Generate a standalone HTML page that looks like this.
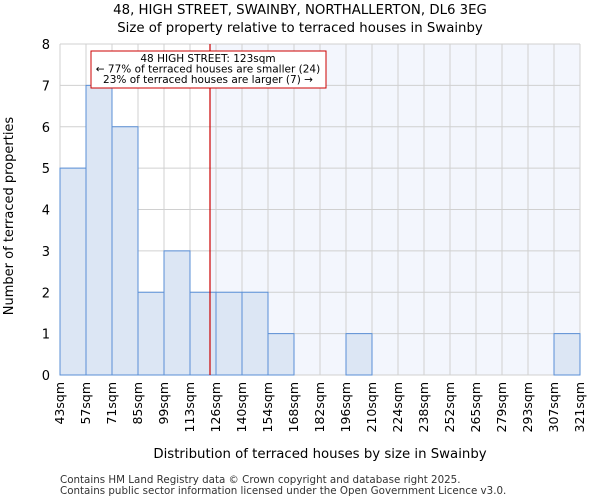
<!DOCTYPE html>
<html><head><meta charset="utf-8"><style>
body{margin:0;background:#fff;font-family:"DejaVu Sans","Liberation Sans",sans-serif}
</style></head><body>
<svg width="600" height="500" xmlns="http://www.w3.org/2000/svg" font-family="DejaVu Sans, Liberation Sans, sans-serif">
<text x="300" y="14" text-anchor="middle" font-size="13.3">48, HIGH STREET, SWAINBY, NORTHALLERTON, DL6 3EG</text>
<text x="300" y="32" text-anchor="middle" font-size="13.3">Size of property relative to terraced houses in Swainby</text>
<g id="plot"></g>
<text x="320" y="458" text-anchor="middle" font-size="13.3">Distribution of terraced houses by size in Swainby</text>
<text x="13" y="216" text-anchor="middle" font-size="13" transform="rotate(-90 13 216)">Number of terraced properties</text>
<text x="60" y="483" font-size="10.3" fill="#333">Contains HM Land Registry data © Crown copyright and database right 2025.</text>
<text x="60" y="494" font-size="10.3" fill="#333">Contains public sector information licensed under the Open Government Licence v3.0.</text>
</svg>
<script>
const binLabels=["43sqm","57sqm","71sqm","85sqm","99sqm","113sqm","126sqm","140sqm","154sqm","168sqm","182sqm","196sqm","210sqm","224sqm","238sqm","252sqm","265sqm","279sqm","293sqm","307sqm","321sqm"];
const binEdges=[43,57,71,85,99,113,126,140,154,168,182,196,210,224,238,252,265,279,293,307,321];
const counts=[5,7,6,2,3,2,2,2,1,0,0,1,0,0,0,0,0,0,0,1];
const yTicks=[0,1,2,3,4,5,6,7,8];
const propertySize=123;
const NS="http://www.w3.org/2000/svg";
const L=60,R=580,T=44,B=375,yMax=8;
const nb=counts.length;
function xIdx(i){return L+(R-L)*i/nb;}
function xVal(v){for(let i=0;i<binEdges.length-1;i++){if(v<=binEdges[i+1]){return xIdx(i+(v-binEdges[i])/(binEdges[i+1]-binEdges[i]));}}return R;}
function y(v){return B-(B-T)*v/yMax;}
const g=document.getElementById('plot');
function mk(t,a){const e=document.createElementNS(NS,t);for(const k in a)e.setAttribute(k,a[k]);g.appendChild(e);return e;}
const px=xVal(propertySize);
let e=mk('rect',{x:px,y:T,width:R-px,height:B-T,fill:'#f3f6fd'});


for(let i=0;i<=nb;i++){e=mk('line',{x1:xIdx(i),x2:xIdx(i),y1:T,y2:B,stroke:'#d0d0d0','stroke-width':1});

}
yTicks.forEach(t=>{e=mk('line',{x1:L,x2:R,y1:y(t),y2:y(t),stroke:'#d0d0d0','stroke-width':1});


e=mk('text',{x:L-10,y:y(t)+5,'text-anchor':'end','font-size':13});e.textContent=t;

});
counts.forEach((c,i)=>{if(c<=0)return;e=mk('rect',{x:xIdx(i),y:y(c),width:xIdx(i+1)-xIdx(i),height:B-y(c),fill:'#dce6f4',stroke:'#5a8fd6','stroke-width':1});

});
binLabels.forEach((l,i)=>{const xx=xIdx(i)+4;e=mk('text',{x:xx,y:382,'text-anchor':'end','font-size':12.5,transform:`rotate(-90 ${xx} 382)`});e.textContent=l;

});
e=mk('line',{x1:px,x2:px,y1:T,y2:B,stroke:'#cc0000','stroke-width':1.2});


e=mk('rect',{x:91,y:51,width:235,height:37,fill:'#fff',stroke:'#cc0000','stroke-width':1});


["48 HIGH STREET: 123sqm","← 77% of terraced houses are smaller (24)","23% of terraced houses are larger (7) →"].forEach((s,i)=>{e=mk('text',{x:208,y:62+i*10.5,'text-anchor':'middle','font-size':10.5});e.textContent=s;

});
</script>
</body></html>
